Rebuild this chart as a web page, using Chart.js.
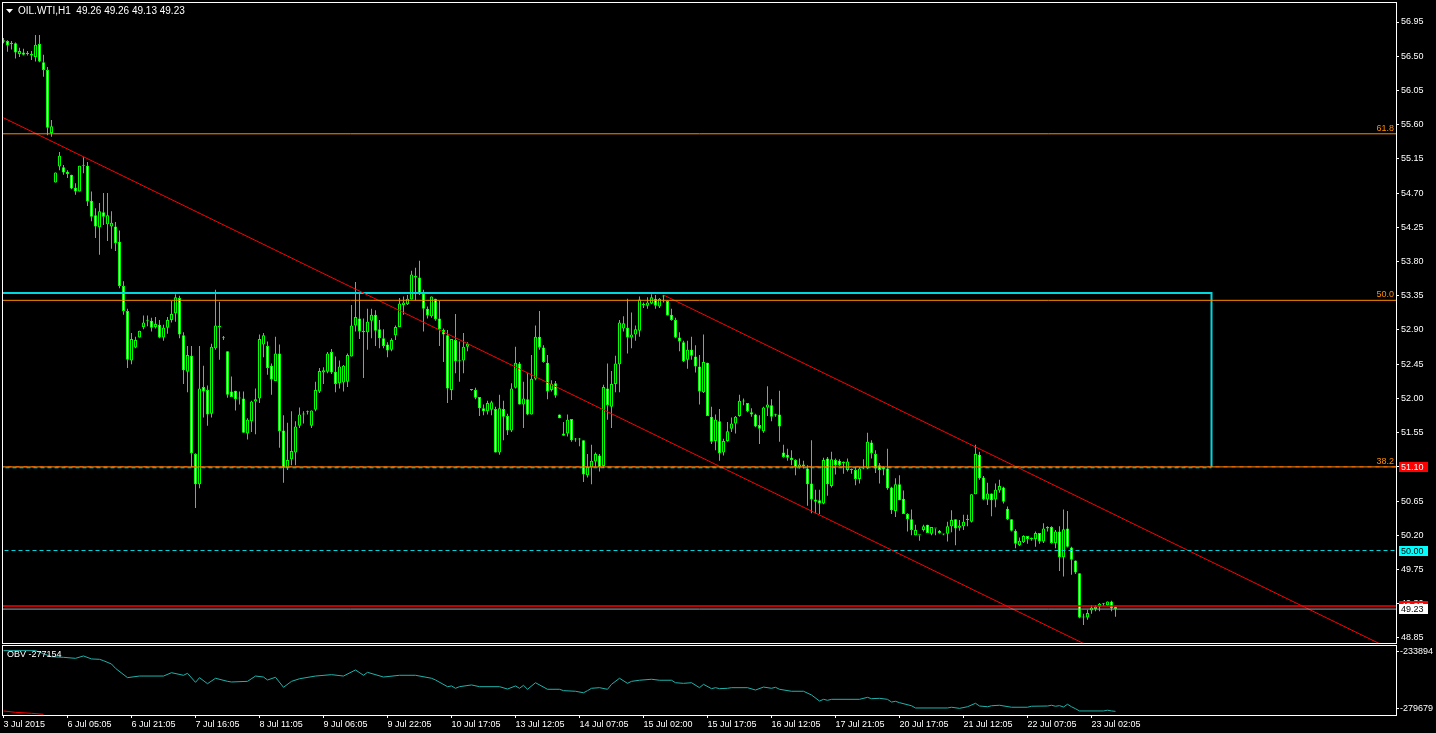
<!DOCTYPE html>
<html>
<head>
<meta charset="utf-8">
<script src="https://cdn.jsdelivr.net/npm/chart.js@4/dist/chart.umd.min.js"></script>
<style>
  html, body { margin: 0; padding: 0; background: #000; overflow: hidden; }
  canvas { position: absolute; left: 0; }
  #main { top: 0; }
  #sub { top: 645px; }
</style>
</head>
<body>
<canvas id="main" width="1436" height="645"></canvas>
<canvas id="sub" width="1436" height="88"></canvas>
<script>
// OIL.WTI H1 candles
const opens = [
  56.69,56.70,56.66,56.67,56.53,56.55,56.53,56.51,56.49,56.66, 56.42,56.32,55.49,54.84,55.05,55.04,54.98,54.94,54.77,54.72,
  55.06,55.06,54.60,54.41,54.25,54.45,54.29,54.26,54.26,54.06, 53.48,53.15,52.50,52.67,52.80,52.94,53.02,53.02,52.94,52.97,
  52.80,52.93,53.03,53.12,53.32,52.83,52.35,52.56,51.27,50.87, 52.15,52.11,51.80,52.66,52.94,52.79,52.62,52.09,52.10,52.00,
  52.00,51.54,51.70,51.96,52.00,52.71,52.69,52.43,52.23,52.59, 51.58,51.09,51.20,51.29,51.64,51.79,51.82,51.64,51.85,52.09,
  52.34,52.35,52.61,52.35,52.20,52.21,52.22,52.55,52.96,53.05, 52.87,52.87,53.02,53.10,52.91,52.79,52.71,52.64,52.83,52.94,
  53.23,53.24,53.30,53.59,53.59,53.38,53.18,53.08,53.31,53.05, 52.90,52.83,52.11,52.77,52.49,52.50,52.68,52.11,52.11,52.02,
  51.87,51.83,51.85,51.86,51.29,51.86,51.77,51.58,52.14,52.46, 51.92,51.99,51.79,52.26,52.81,52.67,52.47,52.11,52.20,51.79,
  51.54,51.54,51.73,51.46,51.46,51.45,50.99,51.10,51.17,51.25, 51.11,52.13,51.89,52.19,52.45,52.92,52.93,52.80,52.84,52.89,
  53.23,53.22,53.25,53.31,53.21,53.34,53.28,53.10,53.03,52.80, 52.74,52.51,52.64,52.55,52.42,52.08,52.47,51.76,51.44,51.70,
  51.29,51.44,51.60,51.67,51.77,51.96,51.94,51.82,51.79,51.65, 51.57,51.88,51.91,51.78,51.79,51.29,51.26,51.22,51.19,51.10,
  51.13,51.08,50.88,50.67,50.66,50.62,51.21,50.85,51.19,51.18, 51.15,51.06,51.06,51.06,50.94,51.08,51.08,51.42,51.27,51.12,
  51.10,51.08,50.83,50.52,50.87,50.68,50.48,50.41,50.20,50.20, 50.27,50.34,50.22,50.29,50.26,50.21,50.22,50.32,50.41,50.30,
  50.32,50.40,50.38,50.74,51.26,50.96,50.67,50.75,50.67,50.79, 50.83,50.55,50.41,50.26,50.07,50.11,50.19,50.15,50.15,50.23,
  50.12,50.29,50.31,50.10,50.25,49.91,50.29,50.04,49.87,49.70, 49.12,49.12,49.21,49.23,49.26,49.30,49.28,49.33,49.26
];
const highs = [
  56.74,56.71,56.70,56.68,56.61,56.60,56.57,56.57,56.78,56.78, 56.52,56.36,55.66,54.97,55.24,55.07,55.00,54.94,54.83,55.06,
  55.17,55.11,54.72,54.50,54.57,54.70,54.70,54.46,54.32,54.21, 53.54,53.18,52.86,52.81,52.89,53.09,53.09,53.06,53.07,53.03,
  52.97,53.07,53.28,53.37,53.35,52.87,52.69,52.69,51.28,52.69, 52.43,52.17,52.72,53.43,53.27,52.82,52.62,52.29,52.10,52.09,
  52.09,51.74,51.97,52.13,52.84,52.86,52.75,52.46,52.81,52.71, 51.78,51.68,51.83,51.70,51.88,51.83,51.84,51.84,52.22,52.40,
  52.41,52.61,52.65,52.55,52.50,52.44,52.59,53.23,53.53,53.40, 53.05,53.18,53.18,53.16,53.03,52.91,52.74,52.79,52.96,53.32,
  53.34,53.36,53.68,53.72,53.81,53.43,53.21,53.34,53.31,53.28, 52.92,52.90,52.78,53.11,52.75,52.86,52.74,52.12,52.14,52.02,
  51.92,51.97,51.97,51.89,52.05,51.97,51.80,52.20,52.68,52.48, 52.22,52.33,52.57,52.96,53.15,52.70,52.57,52.24,52.23,51.79,
  51.69,51.79,51.73,51.48,51.48,51.45,51.27,51.39,51.29,51.27, 52.18,52.46,52.36,52.56,53.03,53.08,53.31,53.13,52.96,53.34,
  53.26,53.33,53.37,53.36,53.32,53.36,53.29,53.18,53.06,52.87, 52.76,52.76,52.81,52.70,52.57,52.84,52.47,51.89,51.79,51.86,
  51.47,51.69,51.75,51.77,52.05,52.00,51.94,51.87,51.80,51.78, 51.89,52.16,51.99,51.80,52.10,51.39,51.34,51.32,51.20,51.21,
  51.18,51.12,51.45,50.80,50.80,51.22,51.23,51.30,51.21,51.20, 51.17,51.21,51.08,51.10,51.10,51.20,51.55,51.45,51.32,51.15,
  51.11,51.34,50.84,50.95,50.99,50.79,50.49,50.54,50.34,50.20, 50.34,50.34,50.31,50.29,50.27,50.22,50.38,50.53,50.41,50.40,
  50.47,50.47,50.74,51.39,51.30,50.98,50.89,50.75,50.88,50.93, 50.84,50.58,50.41,50.28,50.17,50.20,50.19,50.17,50.25,50.23,
  50.36,50.32,50.32,50.27,50.32,50.54,50.52,50.05,49.87,49.70, 49.17,49.22,49.28,49.28,49.31,49.31,49.33,49.34,49.26
];
const lows = [
  56.67,56.56,56.59,56.47,56.49,56.51,56.51,56.45,56.43,56.42, 56.23,55.46,55.44,54.84,55.00,54.94,54.90,54.75,54.68,54.72,
  54.96,54.53,54.33,54.11,53.89,54.28,54.07,53.97,53.94,53.45, 53.10,52.40,52.45,52.66,52.80,52.91,52.95,52.88,52.92,52.79,
  52.76,52.85,53.00,53.01,52.79,52.19,52.08,51.10,50.56,50.82, 51.75,51.64,51.75,52.64,52.51,52.77,52.01,52.02,51.84,51.92,
  51.55,51.46,51.56,51.53,51.94,52.54,52.31,52.05,52.23,51.35, 50.89,51.06,51.12,51.12,51.61,51.67,51.79,51.61,51.83,52.07,
  52.19,52.33,52.32,52.08,52.13,52.09,52.15,52.55,52.88,52.78, 52.27,52.64,52.79,52.69,52.66,52.66,52.54,52.62,52.77,52.94,
  53.10,53.23,53.30,53.29,53.36,52.88,53.05,53.06,53.02,52.69, 52.48,51.94,51.98,52.33,52.22,52.33,52.62,52.10,51.99,51.77,
  51.78,51.79,51.78,51.29,51.26,51.45,51.52,51.56,52.13,51.92, 51.61,51.78,51.79,52.24,52.64,52.47,51.99,52.09,52.01,51.74,
  51.51,51.50,51.43,51.43,51.37,50.90,50.96,50.87,51.10,51.04, 51.09,51.72,51.61,52.08,52.08,52.88,52.59,52.66,52.76,52.81,
  53.19,53.18,53.24,53.18,53.19,53.26,53.09,53.02,52.79,52.62, 52.48,52.39,52.51,52.34,51.92,52.07,51.77,51.40,51.32,51.18,
  51.25,51.43,51.56,51.54,51.76,51.91,51.82,51.76,51.62,51.40, 51.55,51.77,51.70,51.76,51.43,51.22,51.18,51.12,50.99,51.08,
  51.08,50.59,50.49,50.49,50.48,50.61,50.72,50.83,51.00,51.11, 51.01,51.04,51.01,50.86,50.88,51.07,51.07,51.21,51.02,50.88,
  50.99,50.80,50.48,50.44,50.66,50.48,50.25,50.20,50.20,50.13, 50.25,50.23,50.20,50.20,50.22,50.20,50.12,50.24,50.07,50.26,
  50.27,50.32,50.37,50.74,50.93,50.66,50.60,50.45,50.57,50.76, 50.62,50.40,50.25,50.03,50.06,50.10,50.09,50.13,50.05,50.09,
  50.10,50.25,50.09,50.03,49.73,49.66,50.04,49.68,49.69,49.11, 49.02,49.09,49.17,49.20,49.20,49.27,49.27,49.20,49.13
];
const closes = [
  56.71,56.64,56.66,56.55,56.57,56.52,56.53,56.53,56.65,56.43, 56.32,55.56,55.58,54.97,55.19,54.97,54.95,54.76,54.72,55.06,
  55.06,54.59,54.39,54.26,54.46,54.39,54.41,54.31,54.04,53.48, 53.15,52.51,52.78,52.77,52.89,53.00,53.02,52.93,52.98,52.80,
  52.93,53.03,53.11,53.33,52.84,52.37,52.57,51.28,50.87,52.13, 52.09,51.79,52.68,52.96,52.94,52.79,52.05,52.02,51.99,52.00,
  51.55,51.72,51.96,51.99,52.78,52.83,52.40,52.25,52.59,51.57, 51.09,51.19,51.31,51.63,51.79,51.79,51.82,51.84,52.11,52.36,
  52.37,52.59,52.34,52.19,52.42,52.43,52.57,52.96,53.07,52.88, 52.89,53.01,53.10,52.89,52.79,52.69,52.63,52.77,52.94,53.25,
  53.26,53.31,53.63,53.61,53.37,53.18,53.09,53.34,53.04,52.91, 52.84,52.13,52.78,52.49,52.49,52.68,52.72,52.11,52.01,51.87,
  51.83,51.94,51.95,51.29,51.87,51.76,51.58,52.13,52.47,51.92, 52.00,51.79,52.26,52.81,52.67,52.48,52.09,52.19,52.04,51.74,
  51.51,51.72,51.45,51.46,51.46,51.00,51.10,51.18,51.27,51.10, 52.15,51.91,52.19,52.46,53.00,52.99,52.80,52.84,52.91,53.30,
  53.23,53.26,53.33,53.22,53.31,53.34,53.09,53.03,52.80,52.75, 52.49,52.64,52.56,52.42,52.09,52.48,51.77,51.43,51.72,51.28,
  51.44,51.57,51.67,51.76,51.97,51.97,51.83,51.79,51.63,51.60, 51.88,51.92,51.76,51.78,51.63,51.23,51.22,51.19,51.10,51.13,
  51.11,50.87,50.67,50.64,50.62,51.19,50.87,51.20,51.12,51.12, 51.15,51.17,51.06,50.94,51.08,51.08,51.43,51.28,51.08,51.06,
  51.07,50.82,50.53,50.87,50.66,50.48,50.41,50.27,50.27,50.20, 50.32,50.23,50.31,50.29,50.23,50.21,50.32,50.40,50.29,50.33,
  50.38,50.40,50.74,51.27,50.95,50.67,50.75,50.66,50.80,50.85, 50.64,50.41,50.26,50.09,50.13,50.19,50.15,50.15,50.23,50.12,
  50.29,50.31,50.10,50.25,49.91,50.28,50.05,49.88,49.71,49.12, 49.12,49.18,49.25,49.26,49.30,49.30,49.33,49.24,49.23
];

const priceTicks = [56.95, 56.50, 56.05, 55.60, 55.15, 54.70, 54.25, 53.80, 53.35, 52.90,
                    52.45, 52.00, 51.55, 51.10, 50.65, 50.20, 49.75, 49.30, 48.85];
const timeTickBars = [0, 16, 32, 48, 64, 80, 96, 112, 128, 144, 160, 176, 192, 208, 224, 240, 256, 272];
const timeLabels = ['3 Jul 2015', '6 Jul 05:05', '6 Jul 21:05', '7 Jul 16:05', '8 Jul 11:05', '9 Jul 06:05',
                    '9 Jul 22:05', '10 Jul 17:05', '13 Jul 12:05', '14 Jul 07:05', '15 Jul 02:00', '15 Jul 17:05',
                    '16 Jul 12:05', '17 Jul 21:05', '20 Jul 17:05', '21 Jul 12:05', '22 Jul 07:05', '23 Jul 02:05'];

// chart objects
const fiboLevels = ['61.8', '50.0', '38.2'];
const fiboPrices = [55.48, 53.29, 51.10];
const lowerTrendBars = [0, 300];
const lowerTrendPrices = [55.69, 48.01];
const upperTrendBars = [165, 345];
const upperTrendPrices = [53.36, 48.75];
const boxBars = [-3, 302];
const boxPrices = [53.386, 51.10];
const alertPrice = 51.10;
const roundPrice = 50.00;
const stopPrice = 49.27;
const bidPrice = 49.23;

// OBV sub-window
const obvBars = [0,8,12,15,18,20,22,24,25,27, 28,31,34,40,42,45,46,48,49,51, 53,56,57,61,63,65,66,68,70,72,
  74,78,82,85,88,90,91,95,99,103, 107,108,111,112,113,114,117,119,124,126, 128,129,130,131,133,136,139,140,143,145,
  146,147,149,151,152,154,156,157,159,162, 164,167,168,170,172,174,175,177,178,179, 181,182,186,188,190,192,193,194,197,200,
  202,204,205,206,207,214,216,217,219,221, 222,223,224,227,228,236,237,239,241,243, 244,246,247,249,252,256,257,261,262,263,
  264,265,266,267,268,269,275,276,277,278];
const obvValues = [-232800,-232800,-237700,-238200,-239000,-237100,-239500,-239800,-240900,-243600,
  -247100,-254600,-253300,-253300,-250600,-252700,-251100,-258400,-254600,-259500,
  -255100,-257600,-258100,-257600,-253300,-254100,-256500,-254300,-262400,-257600,
  -255500,-253300,-252200,-253300,-248400,-252700,-250300,-254100,-252700,-252700,
  -255100,-256500,-261900,-261300,-263200,-261900,-260500,-261900,-261900,-263800,
  -261300,-263200,-260800,-264000,-258700,-264000,-264000,-265100,-265600,-266800,
  -265100,-263200,-262700,-264000,-260000,-255100,-259200,-257600,-256700,-255900,
  -256700,-256700,-258700,-259200,-258700,-262700,-260000,-263500,-262700,-263500,
  -263200,-262700,-262700,-264600,-262200,-263200,-262400,-264000,-265600,-265600,
  -268600,-273500,-272100,-272900,-272100,-272100,-270500,-271600,-271300,-272100,
  -274300,-273700,-274800,-277300,-279100,-279100,-278500,-279400,-278100,-275300,
  -277500,-278100,-277300,-276900,-278500,-278500,-277700,-277500,-276900,-277700,
  -277200,-278300,-276100,-278100,-279700,-281500,-281500,-280900,-281500,-281800];
const redBars = [0, 3, 7, 10];
const redValues = [-281500, -282600, -283400, -284200];
const obvTicks = [-233894, -279679];
const obvLabel = 'OBV -277154';
const titleText = 'OIL.WTI,H1  49.26 49.26 49.13 49.23';

const FONT = '"Liberation Sans", Arial, sans-serif';
const LIME = '#00ff00';
const ORANGE = '#ff8c00';
const CYAN = '#00d8e0';
const X_MIN = -0.125, X_MAX = 348.125;

const bars = closes.map((_, i) => i);
const wickData = bars.map(i => ({ x: i, y: [lows[i], highs[i]] }));
const bodyData = bars.map(i => ({ x: i, y: [opens[i], closes[i]] }));
const bodyFill = bars.map(i => closes[i] > opens[i] ? '#000000' : '#ffffff');

function line(xs, ys, color, width, dash, order) {
  return {
    type: 'line',
    data: xs.map((x, k) => ({ x: x, y: ys[k] })),
    borderColor: color, borderWidth: width, borderDash: dash || [],
    pointRadius: 0, tension: 0, fill: false, clip: 0, order: order || 0
  };
}
function hline(price, color, width, dash, x0, x1) {
  return line([x0 === undefined ? -5 : x0, x1 === undefined ? 360 : x1], [price, price], color, width, dash);
}

const mainDecor = {
  id: 'mainDecor',
  beforeDraw(chart) {
    const c = chart.ctx;
    c.save(); c.fillStyle = '#000'; c.fillRect(0, 0, chart.width, chart.height); c.restore();
  },
  afterDraw(chart) {
    const c = chart.ctx, a = chart.chartArea, ys = chart.scales.y;
    c.save();
    c.strokeStyle = '#fff'; c.lineWidth = 1;
    c.strokeRect(a.left - 0.5, a.top - 0.5, a.right - a.left + 1, a.bottom - a.top + 1);

    // fibo level captions
    c.font = '9px ' + FONT; c.fillStyle = ORANGE; c.textAlign = 'right'; c.textBaseline = 'alphabetic';
    fiboLevels.forEach((t, k) => c.fillText(t, a.right - 2, ys.getPixelForValue(fiboPrices[k]) - 3));

    // price badges on the axis
    const badge = (price, text, bg, fg) => {
      const y = Math.round(ys.getPixelForValue(price));
      c.fillStyle = bg; c.fillRect(a.right + 3, y - 5, 29, 10);
      c.fillStyle = fg; c.textAlign = 'left'; c.textBaseline = 'middle';
      c.fillText(text, a.right + 5, y + 0.5);
    };
    badge(alertPrice, alertPrice.toFixed(2), '#ff0000', '#ffffff');
    badge(roundPrice, roundPrice.toFixed(2), '#00ffff', '#000000');
    badge(stopPrice, stopPrice.toFixed(2), '#ff0000', '#ffffff');
    badge(bidPrice, bidPrice.toFixed(2), '#ffffff', '#000000');

    // symbol caption
    c.fillStyle = '#fff';
    c.beginPath(); c.moveTo(6, 9); c.lineTo(13, 9); c.lineTo(9.5, 13); c.closePath(); c.fill();
    c.font = '10px ' + FONT; c.textAlign = 'left'; c.textBaseline = 'middle';
    c.fillText(titleText, 18, 11);
    c.restore();
  }
};

new Chart(document.getElementById('main'), {
  type: 'bar',
  data: {
    datasets: [
      line(lowerTrendBars, lowerTrendPrices, '#ff0000', 1, null, 1),
      line(upperTrendBars, upperTrendPrices, '#ff0000', 1, null, 1),
      line([boxBars[0], boxBars[1], boxBars[1]], [boxPrices[0], boxPrices[0], boxPrices[1]], CYAN, 2, null, 1),
      hline(boxPrices[1] - 0.012, CYAN, 1, [4, 3], boxBars[0], boxBars[1]),
      hline(fiboPrices[0], ORANGE, 1),
      hline(fiboPrices[1], ORANGE, 1),
      hline(fiboPrices[2], ORANGE, 1),
      hline(alertPrice, '#ff2000', 1, [4, 4]),
      hline(roundPrice, CYAN, 1, [4, 3]),
      hline(stopPrice, '#ff0000', 1.5),
      hline(bidPrice, '#a0a8b0', 1),
      {
        type: 'bar', data: bodyData, backgroundColor: bodyFill, borderColor: LIME, borderWidth: 1,
        borderSkipped: false, barThickness: 3, grouped: false, inflateAmount: 0, minBarLength: 1,
        clip: 0, order: 2
      },
      {
        type: 'bar', data: wickData, backgroundColor: LIME, borderWidth: 0,
        barThickness: 1, grouped: false, inflateAmount: 0, minBarLength: 1, clip: 0, order: 3
      }
    ]
  },
  options: {
    responsive: false,
    animation: false,
    events: [],
    layout: { padding: { left: 3, top: 3, right: 0, bottom: 2 } },
    plugins: { legend: { display: false }, tooltip: { enabled: false } },
    scales: {
      x: { type: 'linear', min: X_MIN, max: X_MAX, offset: false, display: false },
      y: {
        type: 'linear', position: 'right', min: 48.784, max: 57.200,
        afterBuildTicks: s => { s.ticks = priceTicks.map(v => ({ value: v })); },
        afterFit: s => { s.width = 40; s.paddingTop = 0; s.paddingBottom = 0; },
        ticks: { color: '#fff', font: { family: FONT, size: 9 }, padding: 2, autoSkip: false,
                 callback: v => Number(v).toFixed(2) },
        grid: { drawOnChartArea: false, drawTicks: true, tickLength: 3, tickColor: '#fff' },
        border: { display: false }
      }
    }
  },
  plugins: [mainDecor]
});

const subDecor = {
  id: 'subDecor',
  beforeDraw(chart) {
    const c = chart.ctx;
    c.save(); c.fillStyle = '#000'; c.fillRect(0, 0, chart.width, chart.height); c.restore();
  },
  afterDraw(chart) {
    const c = chart.ctx, a = chart.chartArea;
    c.save();
    c.strokeStyle = '#fff'; c.lineWidth = 1;
    c.strokeRect(a.left - 0.5, a.top - 0.5, a.right - a.left + 1, a.bottom - a.top + 1);
    c.fillStyle = '#fff'; c.font = '9px ' + FONT; c.textAlign = 'left'; c.textBaseline = 'middle';
    c.fillText(obvLabel, 7, 9.5);
    c.restore();
  }
};

new Chart(document.getElementById('sub'), {
  type: 'line',
  data: {
    datasets: [
      {
        data: obvBars.map((x, k) => ({ x: x, y: obvValues[k] })),
        borderColor: '#20b2aa', borderWidth: 1, pointRadius: 0, tension: 0, clip: 0
      },
      {
        data: redBars.map((x, k) => ({ x: x, y: redValues[k] })),
        borderColor: '#ff0000', borderWidth: 1, pointRadius: 0, tension: 0, clip: 0
      }
    ]
  },
  options: {
    responsive: false,
    animation: false,
    events: [],
    layout: { padding: { left: 3, top: 1, right: 0, bottom: 0 } },
    plugins: { legend: { display: false }, tooltip: { enabled: false } },
    scales: {
      x: {
        type: 'linear', min: X_MIN, max: X_MAX, position: 'bottom', offset: false,
        afterBuildTicks: s => { s.ticks = timeTickBars.map(v => ({ value: v })); },
        afterFit: s => { s.height = 18; s.paddingLeft = 0; s.paddingRight = 0; },
        ticks: { color: '#fff', font: { family: FONT, size: 9 }, padding: 1, align: 'start',
                 autoSkip: false, maxRotation: 0, minRotation: 0,
                 callback: v => timeLabels[timeTickBars.indexOf(v)] },
        grid: { drawOnChartArea: false, drawTicks: true, tickLength: 3, tickColor: '#fff' },
        border: { display: false }
      },
      y: {
        type: 'linear', position: 'right', min: -284767, max: -229049,
        afterBuildTicks: s => { s.ticks = obvTicks.map(v => ({ value: v })); },
        afterFit: s => { s.width = 40; s.paddingTop = 0; s.paddingBottom = 0; },
        ticks: { color: '#fff', font: { family: FONT, size: 9 }, padding: 1, autoSkip: false,
                 callback: v => String(v) },
        grid: { drawOnChartArea: false, drawTicks: true, tickLength: 3, tickColor: '#fff' },
        border: { display: false }
      }
    }
  },
  plugins: [subDecor]
});
</script>
</body>
</html>
